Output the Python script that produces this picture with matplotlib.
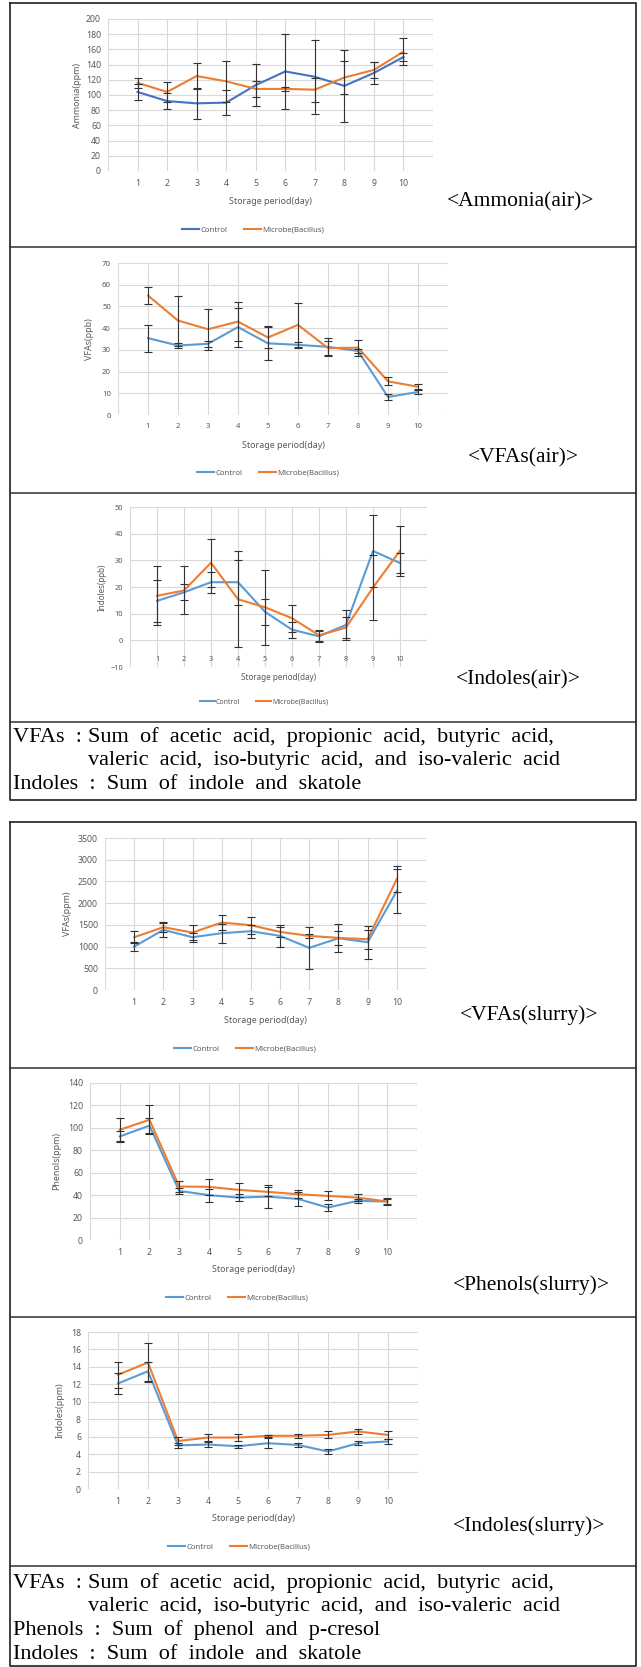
import matplotlib
matplotlib.use("Agg")
import matplotlib.pyplot as plt
from matplotlib.lines import Line2D
import numpy as np

W, H = 641, 1667

days = list(range(1, 11))

# Ammonia (air), ppm
ammonia_control = [104, 92, 89, 90, 113, 131, 124, 112, 129, 150]
ammonia_control_err = [11, 11, 20, 16, 28, 49, 49, 47, 14, 5]
ammonia_microbe = [116, 104, 125, 118, 108, 108, 107, 123, 133, 157]
ammonia_microbe_err = [7, 13, 17, 27, 11, 3, 16, 22, 10, 18]

# VFAs (air), ppb
vfa_air_control = [35.4, 32, 32.8, 40.5, 33, 32.3, 31.4, 29.5, 8.3, 10.6]
vfa_air_control_err = [6.2, 1, 1.5, 9, 7.8, 1.3, 4, 1, 1.5, 0.8]
vfa_air_microbe = [55, 43.5, 39.5, 43, 35.7, 41.5, 30.8, 31, 15.5, 13]
vfa_air_microbe_err = [4, 11.5, 9.5, 9, 5, 10, 3.2, 3.6, 1.8, 1.2]

# Indoles (air), ppb
ind_air_control = [14.8, 18, 21.8, 21.8, 10.7, 4, 1.5, 5.8, 33.5, 29]
ind_air_control_err = [8, 3, 4, 8.5, 4.8, 3, 2, 5.6, 13.5, 3.8]
ind_air_microbe = [16.7, 18.7, 29.1, 15.4, 12.4, 8.3, 1.9, 4.8, 19.8, 33.6]
ind_air_microbe_err = [11, 9, 9, 18, 14, 5, 2, 4, 12.3, 9.4]

# VFAs (slurry), ppm
vfa_sl_control = [1000, 1385, 1215, 1308, 1354, 1246, 970, 1192, 1100, 2280]
vfa_sl_control_err = [100, 170, 100, 220, 150, 250, 480, 320, 380, 500]
vfa_sl_microbe = [1215, 1446, 1323, 1554, 1492, 1338, 1246, 1200, 1170, 2554]
vfa_sl_microbe_err = [140, 100, 180, 180, 200, 120, 50, 170, 220, 300]

# Phenols (slurry), ppm
phe_control = [92.3, 102, 43.8, 40, 37.8, 38.7, 36.6, 28.9, 34.9, 34.3]
phe_control_err = [4.5, 6.5, 3, 5.7, 3, 10, 6, 3, 1.5, 2.5]
phe_microbe = [98.3, 107.2, 47.7, 47.4, 44.7, 42.9, 40.8, 39.3, 37.8, 34.3]
phe_microbe_err = [10.4, 13, 4.5, 7, 6, 4, 3.5, 4, 3, 3]

# Indoles (slurry), ppm
ind_sl_control = [12.1, 13.5, 5.0, 5.1, 4.9, 5.25, 5.05, 4.3, 5.25, 5.45]
ind_sl_control_err = [1.2, 1.1, 0.25, 0.3, 0.15, 0.6, 0.2, 0.3, 0.25, 0.3]
ind_sl_microbe = [13.1, 14.5, 5.5, 5.9, 5.9, 6.1, 6.1, 6.2, 6.6, 6.2]
ind_sl_microbe_err = [1.5, 2.2, 0.5, 0.4, 0.4, 0.1, 0.2, 0.4, 0.25, 0.45]

series_names = ["Control", "Microbe(Bacillus)"]
xlabel_text = "Storage period(day)"

ORANGE = "#ED7D31"
BLUE_DARK = "#4472C4"
BLUE = "#5B9BD5"
GRID = "#D9D9D9"
TXT = "#595959"
ERR = "#333333"

plt.rcParams["font.family"] = ["Noto Sans", "DejaVu Sans"]

fig = plt.figure(figsize=(W / 100, H / 100), dpi=100)

# overlay in pixel coordinates for table borders and notes
ov = fig.add_axes([0, 0, 1, 1])
ov.set_xlim(0, W)
ov.set_ylim(H, 0)
ov.axis("off")


def px_rect(x0, y0, x1, y1):
    return [x0 / W, 1 - y1 / H, (x1 - x0) / W, (y1 - y0) / H]


def panel(box, ctrl, ctrl_err, mic, mic_err, ylim, ystep, ylabel, ctrl_color,
          ylab_x, xlab_y, leg_xy, tick_fs=6.3, lab_fs=6.4, leg_fs=5.6, zero_axis=False):
    x0, y0, x1, y1 = box
    ax = fig.add_axes(px_rect(x0, y0, x1, y1))
    ax.set_xlim(0, 11)
    ax.set_ylim(*ylim)
    ax.set_xticks(range(12))
    ax.set_xticklabels([""] + [str(d) for d in days] + [""])
    ax.set_yticks(np.arange(ylim[0], ylim[1] + ystep / 2, ystep))
    ax.grid(True, color=GRID, linewidth=0.8)
    ax.set_axisbelow(True)
    for s in ax.spines.values():
        s.set_visible(False)
    ax.tick_params(length=0, labelsize=tick_fs, labelcolor=TXT)
    ax.tick_params(axis="y", pad=5)
    if zero_axis:
        ax.spines["bottom"].set_position(("data", 0))
        ax.tick_params(axis="x", pad=11)
    else:
        ax.tick_params(axis="x", pad=6)

    ax.errorbar(days, ctrl, yerr=ctrl_err, fmt="none", ecolor=ERR,
                elinewidth=0.8, capsize=2.6, capthick=0.8, zorder=4)
    ax.errorbar(days, mic, yerr=mic_err, fmt="none", ecolor=ERR,
                elinewidth=0.8, capsize=2.6, capthick=0.8, zorder=4)
    ax.plot(days, ctrl, color=ctrl_color, linewidth=1.5, zorder=3)
    ax.plot(days, mic, color=ORANGE, linewidth=1.5, zorder=3)

    ax.set_xlabel(xlabel_text, fontsize=lab_fs, color=TXT, va="center")
    ax.xaxis.set_label_coords(0.5, -(xlab_y - y1) / (y1 - y0))
    ax.set_ylabel(ylabel, fontsize=lab_fs, color=TXT, va="center")
    ax.yaxis.set_label_coords(-(x0 - ylab_x) / (x1 - x0), 0.5)

    handles = [Line2D([], [], color=ctrl_color, linewidth=1.5),
               Line2D([], [], color=ORANGE, linewidth=1.5)]
    ax.legend(handles, series_names, loc="center",
              bbox_to_anchor=(leg_xy[0] / W, 1 - leg_xy[1] / H),
              bbox_transform=fig.transFigure, ncol=2, frameon=False,
              fontsize=leg_fs, labelcolor=TXT, handlelength=2.2,
              handletextpad=0.15, columnspacing=2.2)
    return ax


panel((108, 19, 433, 171), ammonia_control, ammonia_control_err, ammonia_microbe,
      ammonia_microbe_err, (0, 200), 20, "Ammonia(ppm)", BLUE_DARK, 77, 202, (253, 230))
panel((118, 263, 448, 415), vfa_air_control, vfa_air_control_err, vfa_air_microbe,
      vfa_air_microbe_err, (0, 70), 10, "VFAs(ppb)", BLUE, 89, 445, (268, 473), tick_fs=5.6)
panel((130, 507, 427, 667), ind_air_control, ind_air_control_err, ind_air_microbe,
      ind_air_microbe_err, (-10, 50), 10, "Indoles(ppb)", BLUE, 102, 677, (264, 702),
      tick_fs=5.3, lab_fs=5.8, leg_fs=5.0, zero_axis=True)
panel((105, 838, 426, 990), vfa_sl_control, vfa_sl_control_err, vfa_sl_microbe,
      vfa_sl_microbe_err, (0, 3500), 500, "VFAs(ppm)", BLUE, 68, 1020, (245, 1049))
panel((90, 1083, 417, 1240), phe_control, phe_control_err, phe_microbe,
      phe_microbe_err, (0, 140), 20, "Phenols(ppm)", BLUE, 57, 1269, (237, 1298))
panel((88, 1332, 418, 1489), ind_sl_control, ind_sl_control_err, ind_sl_microbe,
      ind_sl_microbe_err, (0, 18), 2, "Indoles(ppm)", BLUE, 60, 1518, (239, 1547))

# table borders
BORDER = "#303030"
for (x0, y0, x1, y1) in [(10, 3, 636, 800), (10, 822, 636, 1666)]:
    ov.plot([x0, x1, x1, x0, x0], [y0, y0, y1, y1, y0], color=BORDER, linewidth=1.3)
for y in [247, 493, 722]:
    ov.plot([10, 636], [y, y], color=BORDER, linewidth=1.1)
for y in [1068, 1317, 1566]:
    ov.plot([10, 636], [y, y], color=BORDER, linewidth=1.1)

SERIF = ["Liberation Serif", "DejaVu Serif"]
panel_titles = ["<Ammonia(air)>", "<VFAs(air)>", "<Indoles(air)>",
                "<VFAs(slurry)>", "<Phenols(slurry)>", "<Indoles(slurry)>"]
title_pos = [(521, 202), (523, 458), (518, 680), (529, 1015), (531, 1285), (529, 1526)]
for t, (tx, ty) in zip(panel_titles, title_pos):
    ov.text(tx, ty, t, family=SERIF, fontsize=15.5, ha="center", va="center", color="black")

note_fs = 16
vfa_note = "Sum  of  acetic  acid,  propionic  acid,  butyric  acid,"
vfa_note2 = "valeric  acid,  iso-butyric  acid,  and  iso-valeric  acid"
phe_note = "Phenols  :  Sum  of  phenol  and  p-cresol"
ind_note = "Indoles  :  Sum  of  indole  and  skatole"

for base, extra in [(737, [ind_note]), (1583, [phe_note, ind_note])]:
    ov.text(13, base, "VFAs  :", family=SERIF, fontsize=note_fs, va="center")
    ov.text(88, base, vfa_note, family=SERIF, fontsize=note_fs, va="center")
    ov.text(88, base + 23.5, vfa_note2, family=SERIF, fontsize=note_fs, va="center")
    for i, line in enumerate(extra):
        ov.text(13, base + 47 + 24 * i, line, family=SERIF, fontsize=note_fs, va="center")

fig.savefig("out.png", dpi=100)
